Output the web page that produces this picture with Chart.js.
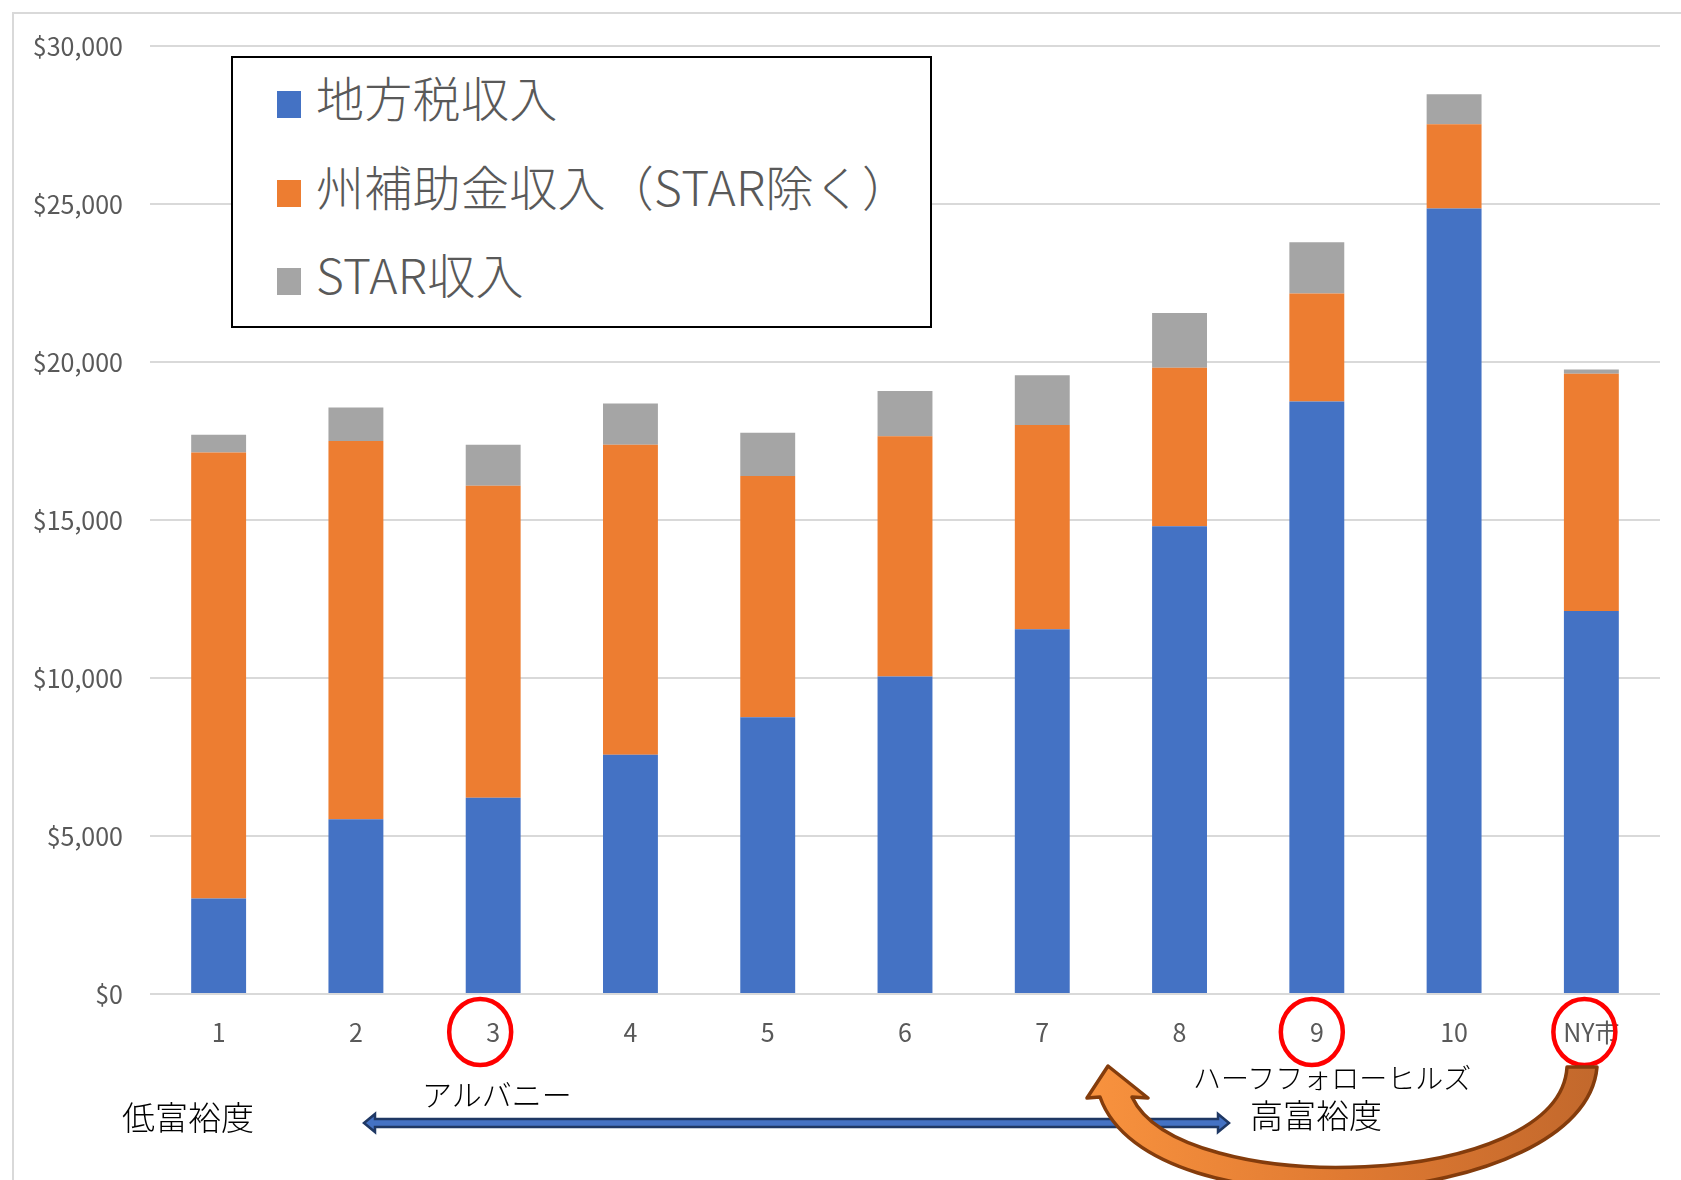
<!DOCTYPE html>
<html lang="ja">
<head>
<meta charset="utf-8">
<script src="https://cdn.jsdelivr.net/npm/chart.js@4/dist/chart.umd.min.js"></script>
<style>
  body { margin: 0; background: #ffffff; }
  #wrap { position: relative; width: 1681px; height: 1180px; overflow: hidden; }
  #frame {
    position: absolute; left: 12px; top: 12px; width: 1700px; height: 1200px;
    border-left: 2px solid #d9d9d9; border-top: 2px solid #d9d9d9;
  }
  canvas { position: absolute; left: 0; top: 0; }
  #legend {
    position: absolute; left: 231px; top: 56px; width: 697px; height: 268px;
    border: 2px solid #000000; background: #ffffff;
    font-family: "Noto Sans CJK JP", sans-serif; font-weight: 300; color: #595959; font-size: 48px;
  }
  .item { position: absolute; left: 44px; display: flex; align-items: center; white-space: nowrap; }
  .sw { width: 24px; height: 27px; margin-right: 15px; }
  .txt { position: relative; top: -8px; letter-spacing: 0.3px; }
  .note { position: absolute; font-family: "Noto Sans CJK JP", sans-serif; font-weight: 300; color: #000000; white-space: nowrap; line-height: 1; }
</style>
</head>
<body>
<div id="wrap">
  <div id="frame"></div>
  <canvas id="chart" width="1681" height="1180"></canvas>
  <div id="legend"></div>
  <div class="note" style="left:422px; top:1078px; font-size:30px;">アルバニー</div>
  <div class="note" style="left:122px; top:1100px; font-size:33px;">低富裕度</div>
  <div class="note" style="left:1193px; top:1063px; font-size:28px;">ハーフフォローヒルズ</div>
  <div class="note" style="left:1250px; top:1098px; font-size:33px;">高富裕度</div>
</div>
<script>
const categories = ["1", "2", "3", "4", "5", "6", "7", "8", "9", "10", "NY市"];
const localTax = [3020, 5530, 6210, 7570, 8760, 10050, 11540, 14800, 18750, 24860, 12120];
const stateAid = [14120, 11970, 9870, 9810, 7630, 7600, 6470, 5020, 3420, 2660, 7510];
const starAid = [560, 1060, 1300, 1310, 1370, 1430, 1570, 1730, 1620, 950, 130];
const yTicks = [0, 5000, 10000, 15000, 20000, 25000, 30000];

const seriesNames = ["地方税収入", "州補助金収入（STAR除く）", "STAR収入"];
const seriesColors = ["#4472C4", "#ED7D31", "#A5A5A5"];

// legend box (html so the text stays text)
const legendBox = document.getElementById("legend");
const legendTops = [46, 135, 223];
seriesNames.forEach((name, i) => {
  const row = document.createElement("div");
  row.className = "item";
  row.style.top = legendTops[i] - 30 + "px";
  row.style.height = "60px";
  row.innerHTML = `<span class="sw" style="background:${seriesColors[i]}"></span><span class="txt">${name}</span>`;
  legendBox.appendChild(row);
});

// circles and arrows drawn over the chart
const annotations = {
  id: "annotations",
  afterDraw(chart) {
    const ctx = chart.ctx;
    const x = chart.scales.x;

    // red circles round 3, 9 and NY市
    ctx.save();
    ctx.strokeStyle = "#ff0000";
    ctx.lineWidth = 4.5;
    [[2, -13], [8, -5], [10, -7]].forEach(([idx, dx]) => {
      ctx.beginPath();
      ctx.ellipse(x.getPixelForValue(idx) + dx, 1032, 31, 33, 0, 0, Math.PI * 2);
      ctx.stroke();
    });
    ctx.restore();

    // blue double arrow
    ctx.save();
    const y0 = 1123, x0 = 364, x1 = 1229;
    ctx.beginPath();
    ctx.moveTo(x0, y0);
    ctx.lineTo(x0 + 11, y0 - 9);
    ctx.lineTo(x0 + 11, y0 - 4);
    ctx.lineTo(x1 - 11, y0 - 4);
    ctx.lineTo(x1 - 11, y0 - 9);
    ctx.lineTo(x1, y0);
    ctx.lineTo(x1 - 11, y0 + 9);
    ctx.lineTo(x1 - 11, y0 + 4);
    ctx.lineTo(x0 + 11, y0 + 4);
    ctx.lineTo(x0 + 11, y0 + 9);
    ctx.closePath();
    ctx.fillStyle = "#4472C4";
    ctx.fill();
    ctx.strokeStyle = "#1F3864";
    ctx.lineWidth = 2.5;
    ctx.stroke();
    ctx.restore();

    // curved arrow from NY市 back toward 7-8
    ctx.save();
    const grad = ctx.createLinearGradient(1090, 0, 1600, 0);
    grad.addColorStop(0, "#F8923E");
    grad.addColorStop(0.5, "#E07A32");
    grad.addColorStop(1, "#C2682C");
    ctx.beginPath();
    ctx.moveTo(1597, 1067);
    ctx.bezierCurveTo(1585, 1210, 1150, 1240, 1100, 1097);
    ctx.lineTo(1087, 1098);
    ctx.lineTo(1108, 1066);
    ctx.lineTo(1148, 1098);
    ctx.lineTo(1132, 1097);
    ctx.bezierCurveTo(1180, 1200, 1560, 1190, 1567, 1067);
    ctx.closePath();
    ctx.fillStyle = grad;
    ctx.fill();
    ctx.strokeStyle = "#843C0C";
    ctx.lineWidth = 3.5;
    ctx.lineJoin = "round";
    ctx.stroke();
    ctx.restore();
  }
};

const tickFont = { family: "'Noto Sans CJK JP', sans-serif", size: 25 };

new Chart(document.getElementById("chart"), {
  type: "bar",
  data: {
    labels: categories,
    datasets: [
      { label: seriesNames[0], data: localTax, backgroundColor: seriesColors[0] },
      { label: seriesNames[1], data: stateAid, backgroundColor: seriesColors[1] },
      { label: seriesNames[2], data: starAid, backgroundColor: seriesColors[2] },
    ],
  },
  options: {
    responsive: false,
    animation: false,
    events: [],
    datasets: { bar: { barPercentage: 0.4, categoryPercentage: 1.0 } },
    layout: { padding: { left: 0, right: 21, top: 46, bottom: 126 } },
    plugins: { legend: { display: false }, tooltip: { enabled: false } },
    scales: {
      x: {
        stacked: true,
        grid: { display: false },
        border: { display: false },
        ticks: { color: "#595959", font: tickFont, padding: 15, maxRotation: 0 },
        afterFit: (scale) => { scale.height = 60; },
      },
      y: {
        stacked: true,
        min: 0,
        max: 30000,
        afterBuildTicks: (scale) => { scale.ticks = yTicks.map((v) => ({ value: v })); },
        grid: { color: "#d9d9d9", lineWidth: 2, drawTicks: false },
        border: { display: false },
        ticks: {
          color: "#595959",
          font: tickFont,
          padding: 27,
          callback: (v) => "$" + v.toLocaleString("en-US"),
        },
        afterFit: (scale) => { scale.width = 150; },
      },
    },
  },
  plugins: [annotations],
});
</script>
</body>
</html>
